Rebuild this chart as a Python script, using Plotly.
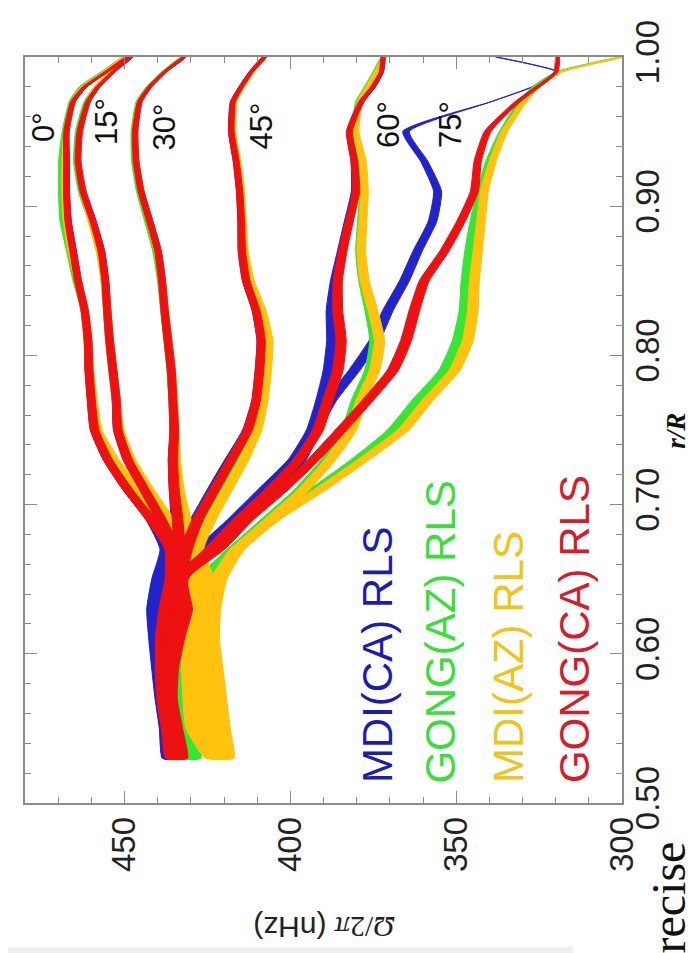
import plotly.graph_objects as go

# ---------------- data ----------------
R = [0.53, 0.55, 0.57, 0.59, 0.61, 0.63, 0.65, 0.67, 0.69, 0.71, 0.73, 0.75, 0.77,
     0.79, 0.81, 0.83, 0.85, 0.87, 0.89, 0.91, 0.93, 0.95, 0.97, 0.98, 0.99, 1.00]

LATITUDES = [0, 15, 30, 45, 60, 75]

# half-width of the error band (nHz) for each latitude
HW_00 = [2.6, 2.5, 2.4, 2.3, 2.2, 2.1, 2.0, 1.8, 1.6, 1.5, 1.4, 1.3, 1.2, 1.2, 1.15, 1.1, 1.05, 1.0, 0.95, 0.9, 0.85, 0.8, 0.7, 0.65, 0.6, 0.55]
HW_15 = [2.6, 2.5, 2.4, 2.3, 2.2, 2.1, 2.0, 1.8, 1.6, 1.5, 1.4, 1.3, 1.2, 1.2, 1.15, 1.1, 1.05, 1.0, 0.95, 0.9, 0.85, 0.8, 0.7, 0.65, 0.6, 0.55]
HW_30 = [2.6, 2.5, 2.4, 2.3, 2.2, 2.1, 2.0, 1.8, 1.6, 1.5, 1.4, 1.3, 1.2, 1.2, 1.15, 1.1, 1.05, 1.0, 0.95, 0.9, 0.85, 0.8, 0.7, 0.65, 0.6, 0.55]
HW_45 = [2.7, 2.6, 2.5, 2.4, 2.3, 2.2, 2.1, 1.9, 1.7, 1.6, 1.5, 1.4, 1.3, 1.3, 1.25, 1.2, 1.15, 1.1, 1.0, 0.95, 0.9, 0.85, 0.75, 0.7, 0.65, 0.6]
HW_60 = [2.8, 2.7, 2.6, 2.5, 2.4, 2.3, 2.2, 2.0, 1.9, 1.8, 1.7, 1.65, 1.6, 1.6, 1.55, 1.5, 1.4, 1.3, 1.2, 1.1, 1.0, 0.9, 0.8, 0.7, 0.6, 0.55]
HW_75 = [3.0, 2.9, 2.8, 2.7, 2.6, 2.5, 2.4, 2.2, 2.0, 1.9, 1.8, 1.75, 1.7, 1.7, 1.65, 1.6, 1.5, 1.4, 1.3, 1.2, 1.1, 1.0, 0.8, 0.7, 0.6, 0.55]
HW_MDI_CA_75 = [3.0, 2.9, 2.8, 2.7, 2.6, 2.5, 2.4, 2.2, 2.0, 1.9, 1.8, 1.75, 1.7, 1.7, 1.65, 1.6, 1.5, 1.4, 1.3, 1.2, 1.1, 1.0, 0.12, 0.12, 0.12, 0.12]

# MDI(CA) RLS  (blue)
MDI_CA_00 = [436, 437, 438.4, 439.5, 440.5, 441.2, 439.8, 437.5, 442, 449, 455, 459, 460, 460.7, 461, 462, 464, 465.5, 467, 467.5, 467.5, 467.5, 465.5, 462, 455.5, 449]
MDI_CA_15 = [435.8, 436.8, 438.2, 439.3, 440.3, 441, 439.6, 437, 439.5, 444, 449, 452, 452.5, 453.5, 454.5, 455.2, 455.8, 457, 459.5, 462.5, 464, 463.5, 461, 458, 453.5, 448]
MDI_CA_30 = [435.6, 436.6, 438, 439.1, 440.1, 440.8, 439.4, 436.5, 434.5, 435, 435.4, 435, 435.4, 435.9, 436.9, 437.9, 438.7, 439.9, 442.4, 445, 446.5, 446.8, 445.4, 442.4, 437.9, 432]
MDI_CA_45 = [435.4, 436.4, 437.8, 438.9, 439.9, 440.6, 439.2, 434, 428.5, 423.5, 418.3, 413, 410.3, 409.3, 408.8, 410.3, 413.3, 414.6, 414.8, 415.3, 416.3, 417.8, 417.3, 414.8, 411.8, 407.8]
MDI_CA_60 = [435.2, 436.2, 437.6, 438.7, 439.7, 440.4, 439, 427, 417, 408, 399, 393.5, 390.7, 388.5, 387.5, 387.7, 386.5, 384.5, 382.5, 380.5, 380.7, 382, 378.6, 375, 372.5, 372]
MDI_CA_75 = [435, 436, 437.4, 438.5, 439.5, 440.2, 438.8, 426, 415, 405, 397, 392.7, 387.7, 380.7, 374.6, 370.6, 365.6, 361.6, 357.1, 355.6, 359.6, 365.1, 339.5, 327, 319.5, 338]

# GONG(AZ) RLS  (green)
GONG_AZ_00 = [431, 431.5, 432, 432.5, 432.5, 432, 431.5, 433, 441, 448.5, 454.5, 458.5, 459.5, 460.5, 461, 462, 464.5, 466.5, 468.5, 469, 469, 468, 466, 463, 456.5, 450]
GONG_AZ_15 = [430.8, 431.3, 431.8, 432.3, 432.3, 431.8, 431.3, 432.5, 438, 443.5, 448.5, 451.5, 452.5, 453.5, 454.5, 455.2, 456, 457.5, 460, 463, 464.5, 464, 461.5, 458.5, 454, 448.5]
GONG_AZ_30 = [430.6, 431.1, 431.6, 432.1, 432.1, 431.6, 431.1, 432, 433, 434, 435, 435, 435.4, 436, 437, 438, 439, 440.5, 443, 445.5, 447, 447.2, 445.8, 442.8, 438.3, 432.5]
GONG_AZ_45 = [430.4, 430.9, 431.4, 431.9, 431.9, 431.4, 430.9, 430, 426, 421, 416, 411.5, 409, 408, 407.5, 409, 412.5, 414, 414.5, 415, 416, 417.5, 417, 414.5, 411.5, 407.8]
GONG_AZ_60 = [430.2, 430.7, 431.2, 431.7, 431.7, 428, 426, 417, 407, 397, 389, 383, 380, 376, 374.5, 376, 378, 379, 378.5, 378, 378.5, 380.5, 379.5, 377, 374.5, 372]
GONG_AZ_75 = [430, 430.5, 431, 431.5, 431.5, 427.5, 425, 417, 406, 392.5, 380, 369, 361.6, 353.5, 349.5, 347.5, 347, 346, 344.5, 342.5, 340, 336, 330.5, 326.4, 319.4, 300.3]

# MDI(AZ) RLS  (orange)
MDI_AZ_00 = [423, 429, 430, 430.5, 430, 430.5, 429, 431, 438, 446, 453, 458, 459.5, 460.5, 461, 462, 464, 466, 467.5, 468, 468, 467.5, 465.5, 462.5, 456, 450]
MDI_AZ_15 = [422, 427.5, 428.5, 429, 428.5, 429, 428, 430, 436.5, 442.5, 448, 451.5, 452.5, 453.5, 454.5, 455.2, 456, 457.5, 460, 462.5, 464, 463.5, 461, 458.5, 454, 448.5]
MDI_AZ_30 = [421.5, 426, 427, 427.5, 427, 427.5, 426.5, 429, 431.5, 433.5, 434.5, 434.8, 435.2, 435.8, 436.8, 437.8, 438.7, 440, 442.5, 445, 446.5, 446.8, 445.5, 442.5, 438, 432.5]
MDI_AZ_45 = [421, 424.5, 425.5, 426, 425.5, 426, 425, 428, 424, 419, 414, 410, 408, 407, 406.5, 408.5, 412, 413.8, 414.3, 414.8, 415.8, 417.3, 416.8, 414.5, 411.5, 408]
MDI_AZ_60 = [420.5, 422, 423, 424, 424.5, 424, 422, 416, 406, 396, 388, 381.7, 378.6, 374.6, 373.1, 375.1, 377.6, 378.6, 378.1, 377.6, 378.1, 380.2, 379.1, 376.6, 374.1, 371.5]
MDI_AZ_75 = [420, 421, 422, 423, 424, 423.5, 421.5, 416, 405, 391, 378, 366, 358.6, 350.5, 346.5, 345, 344.5, 343.5, 342.5, 341.5, 339, 335.5, 329.5, 325.4, 318.4, 299.8]

# GONG(CA) RLS  (red)
GONG_CA_00 = [435, 436.4, 437.9, 438.4, 438.5, 437.5, 435.8, 436, 442, 449, 455, 459, 460, 460.7, 461, 462, 464, 465.5, 467, 467.5, 467.5, 467.5, 465.5, 462, 455.5, 449]
GONG_CA_15 = [434.8, 436.2, 437.7, 438, 437.8, 436.5, 435, 435, 439, 444, 449, 452, 452.5, 453.5, 454.5, 455.2, 455.8, 457, 459.5, 462.5, 464, 463.5, 461, 458, 453.5, 448]
GONG_CA_30 = [434.6, 436, 437.5, 437.6, 437, 435.5, 434.3, 433.5, 434, 435, 435.4, 435, 435.4, 435.9, 436.9, 437.9, 438.7, 439.9, 442.4, 445, 446.5, 446.8, 445.4, 442.4, 437.9, 432]
GONG_CA_45 = [434.4, 435.8, 437.3, 437.2, 436, 434, 433.5, 431.4, 427.9, 422.9, 417.8, 412.8, 410.3, 409.3, 408.8, 410.3, 413.3, 414.6, 414.8, 415.3, 416.3, 417.8, 417.3, 414.8, 411.8, 407.8]
GONG_CA_60 = [434.2, 435.6, 437.1, 436.8, 435, 432.5, 433, 424, 415.5, 406, 397.5, 391.7, 388.7, 385.7, 384.7, 385.7, 385.7, 384.2, 382.2, 380.2, 380.7, 382.2, 378.6, 375.1, 372.6, 372]
GONG_CA_75 = [434, 435.4, 436.9, 436.4, 434.5, 432, 433.5, 422, 413, 402.5, 393, 384.7, 376.6, 369.1, 365.1, 362.6, 359.6, 353.5, 348.5, 344.5, 343.5, 340.5, 331.5, 325.4, 319.9, 319.4]

DATASET_NAMES = ["MDI(CA) RLS", "GONG(AZ) RLS", "MDI(AZ) RLS", "GONG(CA) RLS"]

# latitude labels: (text, Omega, r)
LAT_LABELS = ["0°", "15°", "30°", "45°", "60°", "75°"]
LAT_LABEL_OMEGA = [474.6, 455.6, 438.0, 408.6, 370.6, 351.9]
LAT_LABEL_R = [0.953, 0.957, 0.953, 0.954, 0.955, 0.955]

OMEGA_TICKS = [300, 350, 400, 450]
R_TICKS = [0.50, 0.60, 0.70, 0.80, 0.90, 1.00]

# ---------------- styles ----------------
BAND_COLORS = ["#2323cc", "#35e635", "#ffc20e", "#ee1111"]
TEXT_COLORS = ["#1c1cb0", "#3ade3a", "#f2c318", "#d81b2b"]
LEGEND_X = [0.5905, 0.6968, 0.8090, 0.9196]   # paper x of the rotated legend words
AXIS_GRAY = "#8a8a8a"

series = [
    [MDI_CA_00, MDI_CA_15, MDI_CA_30, MDI_CA_45, MDI_CA_60, MDI_CA_75],
    [GONG_AZ_00, GONG_AZ_15, GONG_AZ_30, GONG_AZ_45, GONG_AZ_60, GONG_AZ_75],
    [MDI_AZ_00, MDI_AZ_15, MDI_AZ_30, MDI_AZ_45, MDI_AZ_60, MDI_AZ_75],
    [GONG_CA_00, GONG_CA_15, GONG_CA_30, GONG_CA_45, GONG_CA_60, GONG_CA_75],
]
half_widths = [HW_00, HW_15, HW_30, HW_45, HW_60, HW_75]

fig = go.Figure()

for d, (name, color) in enumerate(zip(DATASET_NAMES, BAND_COLORS)):
    for k, lat in enumerate(LATITUDES):
        center = series[d][k]
        hw = HW_MDI_CA_75 if (d == 0 and lat == 75) else half_widths[k]
        upper = [c + h for c, h in zip(center, hw)]
        lower = [c - h for c, h in zip(center, hw)]
        xs = upper + lower[::-1] + [upper[0]]
        ys = R + R[::-1] + [R[0]]
        fig.add_trace(go.Scatter(
            x=xs, y=ys, mode="lines", fill="toself", fillcolor=color,
            line=dict(color=color, width=1.0, shape="spline", smoothing=0.5),
            hoverinfo="skip", showlegend=False, name=f"{name} {lat}°"))

annotations = []
# legend words (rotated)
for name, col, lx in zip(DATASET_NAMES, TEXT_COLORS, LEGEND_X):
    annotations.append(dict(
        text=name, x=lx, y=0.024, xref="paper", yref="paper",
        xanchor="center", yanchor="bottom", textangle=-90, showarrow=False,
        font=dict(family="Liberation Sans, Arial, sans-serif", size=42, color=col)))

# latitude labels
for t, om, rr in zip(LAT_LABELS, LAT_LABEL_OMEGA, LAT_LABEL_R):
    annotations.append(dict(
        text=t, x=om, y=rr, xref="x", yref="y", xanchor="center", yanchor="middle",
        textangle=-90, showarrow=False,
        font=dict(family="Liberation Sans, Arial, sans-serif", size=31, color="#111111")))

# axis titles
annotations.append(dict(
    text="<span style='font-family:Liberation Serif'><i>Ω</i>/2<i>π</i></span> (nHz)",
    x=0.5008, y=-0.166, xref="paper", yref="paper", xanchor="center", yanchor="middle",
    textangle=180, showarrow=False,
    font=dict(family="Liberation Sans, Arial, sans-serif", size=30, color="#222222")))
annotations.append(dict(
    text="<b><i>r/R</i></b>", x=1.09, y=0.4987, xref="paper", yref="paper",
    xanchor="center", yanchor="middle", textangle=-90, showarrow=False,
    font=dict(family="Liberation Serif, Times New Roman, serif", size=27, color="#111111")))

# fragment of surrounding page text visible at the lower right
annotations.append(dict(
    text="recise", x=1.078, y=-0.205, xref="paper", yref="paper",
    xanchor="center", yanchor="bottom", textangle=-90, showarrow=False,
    font=dict(family="Liberation Serif, Times New Roman, serif", size=48, color="#111111")))

fig.update_layout(
    width=694, height=953,
    margin=dict(l=17, r=80, t=43, b=158),
    paper_bgcolor="white", plot_bgcolor="white",
    showlegend=False,
    annotations=annotations,
    shapes=[dict(type="rect", xref="paper", yref="paper",
                 x0=-0.03, x1=0.918, y0=-0.2101, y1=-0.1928,
                 fillcolor="#eeeeee", line=dict(width=0), layer="below")],
)

fig.update_xaxes(
    range=[480, 300], tickmode="array", tickvals=OMEGA_TICKS,
    ticktext=[str(v) for v in OMEGA_TICKS], tickangle=-90,
    ticks="inside", ticklen=12, tickwidth=1, tickcolor=AXIS_GRAY,
    minor=dict(tick0=300, dtick=10, ticks="inside", ticklen=6, tickcolor=AXIS_GRAY),
    showline=True, linecolor=AXIS_GRAY, linewidth=1.5, mirror="ticks",
    showgrid=False, zeroline=False, ticklabelstandoff=-1,
    tickfont=dict(family="Liberation Sans, Arial, sans-serif", size=33, color="#222222"))

fig.update_yaxes(
    range=[0.5, 1.0], side="right", tickmode="array", tickvals=R_TICKS,
    ticktext=[f"{v:.2f}" for v in R_TICKS], tickangle=-90,
    ticks="inside", ticklen=12, tickwidth=1, tickcolor=AXIS_GRAY,
    minor=dict(tick0=0.5, dtick=0.02, ticks="inside", ticklen=6, tickcolor=AXIS_GRAY),
    showline=True, linecolor=AXIS_GRAY, linewidth=1.5, mirror="ticks",
    showgrid=False, zeroline=False, ticklabelstandoff=-4,
    tickfont=dict(family="Liberation Sans, Arial, sans-serif", size=33, color="#222222"))

fig.write_html("out.html")
